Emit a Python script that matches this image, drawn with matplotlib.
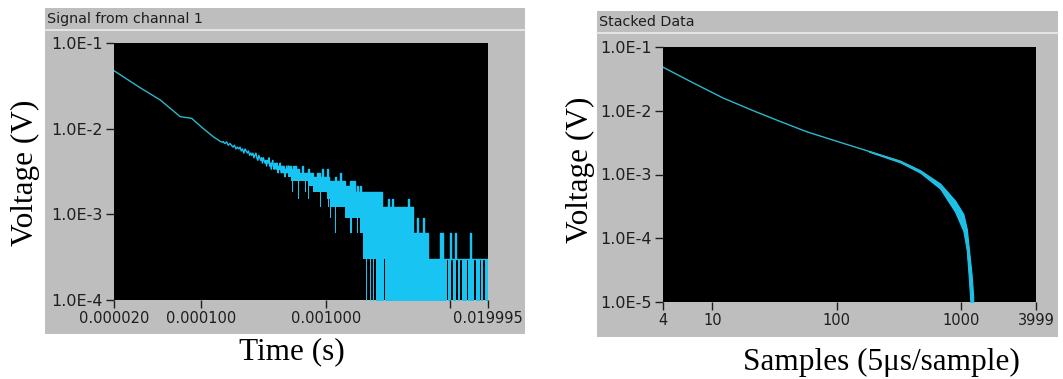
import numpy as np
import matplotlib
matplotlib.use("Agg")
import matplotlib.pyplot as plt
from matplotlib.patches import Rectangle
from matplotlib.lines import Line2D

# ---- channel 1 signal ----
# smooth start of the decay (time in s, volts)
ch1_early_t = [2.0e-5, 3.2e-5, 4.7e-5, 6.8e-5, 8.4e-5, 1.01e-4, 1.25e-4, 1.45e-4]
ch1_early_v = [0.0475, 0.0304, 0.0216, 0.0138, 0.0132, 0.0104, 8.05e-3, 7.0e-3]

# ADC counts for samples 30..99 (one sample = 5 us, one count = 0.305 mV)
sample_dt = 5e-6
adc_lsb = 3.05e-4
jit_first = 30
jit_counts = [23, 22, 23, 21, 22, 21, 20, 21, 19, 20,
              19, 20, 18, 19, 17, 19, 18, 17, 18, 16,
              17, 16, 17, 15, 16, 17, 15, 14, 16, 15,
              14, 15, 13, 15, 14, 13, 14, 12, 14, 13,
              15, 12, 13, 11, 13, 14, 12, 11, 13, 12,
              11, 13, 12, 10, 12, 11, 13, 11, 10, 12,
              11, 10, 12, 11, 9, 11, 10, 12, 10, 11]

# later samples: min/max counts per block, block starts at sample index (last entry = end)
band_start = [100, 105, 107, 109, 115, 120, 122, 129, 131, 136,
              139, 144, 147, 158, 170, 180, 183, 186, 190, 204,
              208, 212, 216, 220, 237, 241, 260, 265, 285, 313,
              324, 343, 356, 362, 376, 383, 398, 420, 428, 452,
              461, 478, 487, 506, 565, 586, 597, 631, 643, 679,
              692, 913, 930, 1001, 1078, 1098, 1204, 1226, 1320, 1648,
              1742, 1875, 1910, 1982, 2019, 2095, 2174, 2214, 2298, 2385,
              2475, 2714, 2765, 2869, 2922, 3089, 3205, 3451, 3515, 3648,
              3785, 3999]
band_hi = [12, 11, 11, 12, 11, 11, 10, 12, 10, 10,
           10, 11, 10, 9, 10, 9, 9, 11, 9, 11,
           9, 8, 8, 8, 9, 8, 10, 8, 7, 8,
           8, 6, 7, 6, 7, 6, 6, 6, 6, 6,
           6, 6, 6, 6, 4, 4, 4, 5, 4, 5,
           4, 5, 4, 2, 3, 2, 3, 2, 1, 2,
           1, 1, 1, 2, 1, 1, 2, 1, 1, 1,
           1, 1, 1, 2, 1, 1, 1, 1, 1, 1,
           1]
band_lo = [9, 8, 6, 8, 8, 5, 8, 8, 8, 6,
           8, 5, 7, 6, 6, 4, 6, 6, 6, 5,
           4, 5, 3, 4, 2, 4, 4, 4, 3, 2,
           3, 3, 2, 3, 2, 2, 1, 0, 1, 0,
           1, 0, 1, 0, 0, 1, 0, 0, 0, 0,
           0, 0, 0, 0, 0, 0, 0, 0, 0, 0,
           0, 1, 0, 0, 1, 0, 0, 1, 0, 1,
           0, 1, 0, 0, 0, 1, 0, 1, 0, 1,
           0]

ch1_xticks = [2e-5, 1e-4, 1e-3, 1e-2, 0.019995]
ch1_xlabels = ["0.000020", "0.000100", "0.001000", "", "0.019995"]
ch1_yticks = [1e-1, 1e-2, 1e-3, 1e-4]
ch1_ylabels = ["1.0E-1", "1.0E-2", "1.0E-3", "1.0E-4"]

# ---- stacked data ----
stack_n = [4, 6.6, 12.2, 22, 35, 57, 106, 182, 323, 468, 678, 894, 1042, 1110, 1143, 1180, 1217]
stack_v = [0.0482, 0.029, 0.0158, 9.75e-3, 6.8e-3, 4.7e-3, 3.2e-3, 2.3e-3, 1.6e-3,
           1.12e-3, 6.6e-4, 3.2e-4, 1.76e-4, 9.6e-5, 4.7e-5, 2.3e-5, 1.1e-5]
spread_n = [182, 323, 468, 678, 894, 1042, 1110, 1143, 1180, 1217, 1250]
spread_hi = [2.33e-3, 1.65e-3, 1.17e-3, 7.2e-4, 3.9e-4, 2.4e-4, 1.4e-4, 8e-5, 4.5e-5, 2.5e-5, 1.2e-5]
spread_lo = [2.27e-3, 1.55e-3, 1.07e-3, 6.0e-4, 2.6e-4, 1.3e-4, 6.5e-5, 3e-5, 1.2e-5, 5e-6, 5e-6]

stack_xticks = [4, 10, 100, 1000, 3999]
stack_xlabels = ["4", "10", "100", "1000", "3999"]
stack_yticks = [1e-1, 1e-2, 1e-3, 1e-4, 1e-5]
stack_ylabels = ["1.0E-1", "1.0E-2", "1.0E-3", "1.0E-4", "1.0E-5"]

W, H = 1063, 379
panel_grey = "#bebebe"
trace = "#18c4f2"
thin_trace = "#2cb8cc"
ink = "#1e1e1e"
ui_font = "DejaVu Sans"
label_font = "Liberation Serif"


def box(x0, y0, x1, y1):
    return [x0 / W, 1 - y1 / H, (x1 - x0) / W, (y1 - y0) / H]


def panel(fig, x0, y0, x1, y1, sep_y, title):
    fig.patches.append(Rectangle((x0 / W, 1 - y1 / H), (x1 - x0) / W, (y1 - y0) / H,
                                 transform=fig.transFigure, facecolor=panel_grey,
                                 edgecolor="none", zorder=-2))
    fig.lines.append(Line2D([x0 / W, x1 / W], [1 - sep_y / H] * 2,
                            transform=fig.transFigure, color="#ececec", lw=1.2, zorder=-1))
    fig.text((x0 + 2) / W, 1 - (sep_y - 11) / H, title, fontsize=10.3,
             family=ui_font, color=ink, va="center", ha="left")


def style_axes(ax, xt, xl, yt, yl, xlim, ylim):
    ax.set_facecolor("black")
    ax.set_xscale("log")
    ax.set_yscale("log")
    ax.set_xlim(*xlim)
    ax.set_ylim(*ylim)
    ax.set_xticks(xt)
    ax.set_xticklabels(xl)
    ax.set_yticks(yt)
    ax.set_yticklabels(yl)
    ax.minorticks_off()
    for s in ax.spines.values():
        s.set_visible(False)
    ax.tick_params(length=6, width=1, color=ink, pad=2, labelcolor=ink)
    ax.tick_params(axis="x", labelsize=10.5)
    ax.tick_params(axis="y", labelsize=11.5)
    for lab in ax.get_xticklabels() + ax.get_yticklabels():
        lab.set_family(ui_font)


fig = plt.figure(figsize=(W / 100, H / 100), dpi=100)
fig.patch.set_facecolor("white")

# left panel: signal from channel 1
panel(fig, 45, 8, 525, 334, 30, "Signal from channal 1")
ax1 = fig.add_axes(box(114, 43, 488, 300))
style_axes(ax1, ch1_xticks, ch1_xlabels, ch1_yticks, ch1_ylabels,
           (2e-5, 0.019995), (1e-4, 1e-1))

jit_t = (np.arange(len(jit_counts)) + jit_first) * sample_dt
jit_v = np.array(jit_counts) * adc_lsb
ax1.plot(ch1_early_t + [jit_t[0]], ch1_early_v + [jit_v[0]], color=thin_trace, lw=1.0)
ax1.plot(jit_t, jit_v, color=trace, lw=1.0)

bt = np.array(band_start) * sample_dt
bh = np.append(band_hi, band_hi[-1]) * adc_lsb
bl = np.append(band_lo, band_lo[-1]) * adc_lsb
bl = np.where(bl > 0, bl, 1e-6)
ax1.plot([jit_t[-1], bt[0]], [jit_v[-1], bh[0]], color=trace, lw=1.0)
ax1.fill_between(bt, bl, bh, step="post", color=trace, lw=0)
ax1.step(bt, bh, where="post", color=trace, lw=1.0)

fig.text(25 / W, 1 - 173 / H, "Voltage (V)", rotation=90, fontsize=22.5,
         family=label_font, ha="center", va="center")
fig.text(292 / W, 1 - 352 / H, "Time (s)", fontsize=22.5,
         family=label_font, ha="center", va="center")

# right panel: stacked data
panel(fig, 597, 11, 1058, 337, 33, "Stacked Data")
ax2 = fig.add_axes(box(663, 47, 1036, 302))
style_axes(ax2, stack_xticks, stack_xlabels, stack_yticks, stack_ylabels,
           (4, 3999), (1e-5, 1e-1))
ax2.plot(stack_n, stack_v, color=thin_trace, lw=1.0)
ax2.fill_between(spread_n, spread_lo, spread_hi, color=trace, lw=0.8, edgecolor=trace)

fig.text(580 / W, 1 - 170 / H, "Voltage (V)", rotation=90, fontsize=22.5,
         family=label_font, ha="center", va="center")
fig.text(881 / W, 1 - 362 / H, "Samples (5\u03bcs/sample)", fontsize=22.5,
         family=label_font, ha="center", va="center")

fig.savefig("out.png", dpi=100, facecolor=fig.get_facecolor())
